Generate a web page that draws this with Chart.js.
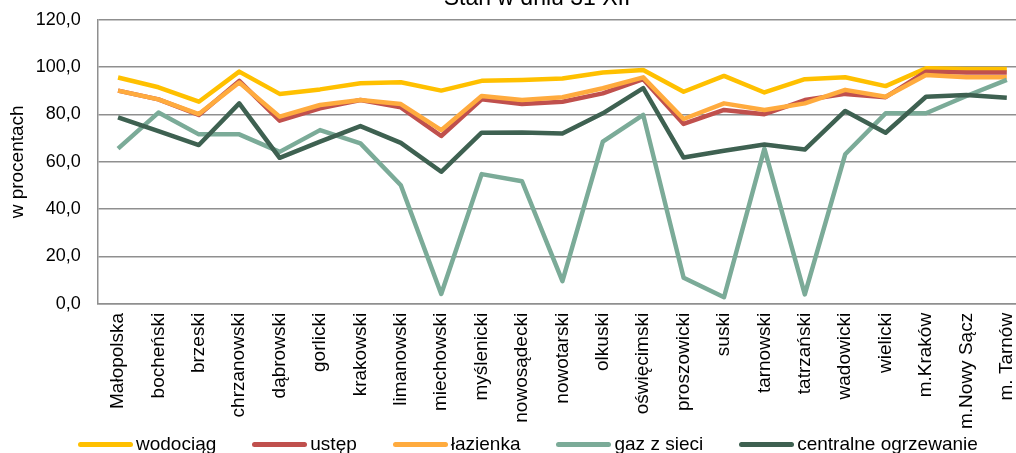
<!DOCTYPE html>
<html>
<head>
<meta charset="utf-8">
<script src="https://cdn.jsdelivr.net/npm/chart.js@4/dist/chart.umd.min.js"></script>
<style>
  html, body { margin: 0; padding: 0; background: #fff; }
  #wrap { position: relative; width: 1016px; height: 453px; overflow: hidden; font-family: 'Liberation Sans', Arial, sans-serif; }
  #box { position: absolute; left: 0; top: 0; width: 1074px; height: 438px; }
  #title { position: absolute; left: 0; top: -14px; width: 1074px; text-align: center; font-size: 23px; line-height: 22px; color: #000; }
  #legend { position: absolute; left: 78px; top: 433px; display: flex; align-items: center; gap: 36px; font-size: 19px; color: #000; white-space: nowrap; }
  #legend .item { display: flex; align-items: center; }
  #legend .line { width: 55px; height: 5px; border-radius: 3px; margin-right: 3px; }
</style>
</head>
<body>
<div id="wrap">
  <div id="box"><canvas id="chart"></canvas></div>
  <div id="title">Stan w dniu 31 XII</div>
  <div id="legend"></div>
</div>
<script>
// Dane: odsetek mieszkań wyposażonych w instalacje (stan w dniu 31 XII)
const categories = ['Małopolska', 'bocheński', 'brzeski', 'chrzanowski', 'dąbrowski', 'gorlicki',
    'krakowski', 'limanowski', 'miechowski', 'myślenicki', 'nowosądecki', 'nowotarski', 'olkuski',
    'oświęcimski', 'proszowicki', 'suski', 'tarnowski', 'tatrzański', 'wadowicki', 'wielicki',
    'm.Kraków', 'm.Nowy Sącz', 'm. Tarnów'];

const wodociag = [95.6, 91.5, 85.4, 98.1, 88.7, 90.6, 93.2, 93.6, 90.1, 94.2, 94.6, 95.2, 97.7,
    98.8, 89.6, 96.3, 89.3, 94.9, 95.7, 92.0, 99.5, 99.2, 99.2];
const ustep = [90.1, 86.4, 79.8, 94.2, 77.4, 82.6, 86.1, 83.0, 70.9, 86.4, 84.4, 85.4, 88.9,
    94.9, 76.0, 81.9, 80.1, 86.1, 88.7, 87.3, 98.1, 97.7, 97.7];
const lazienka = [90.1, 86.4, 80.2, 93.5, 79.1, 84.0, 86.1, 84.4, 73.4, 87.8, 86.1, 87.3, 91.1,
    95.7, 78.1, 84.7, 81.9, 84.7, 90.4, 87.5, 96.7, 95.7, 95.7];
const gaz = [65.6, 80.8, 71.6, 71.6, 64.2, 73.4, 67.8, 50.1, 4.2, 54.8, 51.8, 9.6, 68.5,
    79.8, 11.0, 2.8, 65.6, 4.0, 63.2, 80.5, 80.5, 87.8, 94.6];
const co = [78.8, 73.0, 67.1, 84.7, 61.7, 68.5, 75.1, 68.0, 55.8, 72.3, 72.4, 72.0, 80.5,
    91.1, 61.8, 64.7, 67.3, 65.2, 81.5, 72.3, 87.5, 88.2, 87.1];

const yTicks = [0, 20, 40, 60, 80, 100, 120];

const series = [
    { label: 'wodociąg', data: wodociag, color: '#FFC000' },
    { label: 'ustęp', data: ustep, color: '#C0504D' },
    { label: 'łazienka', data: lazienka, color: '#FFAB3E' },
    { label: 'gaz z sieci', data: gaz, color: '#7BAB98' },
    { label: 'centralne ogrzewanie', data: co, color: '#3E6151' }
];

const FONT = "'Liberation Sans', Arial, sans-serif";
Chart.defaults.font.family = FONT;
Chart.defaults.color = '#000';

const chart = new Chart(document.getElementById('chart').getContext('2d'), {
    type: 'line',
    data: {
        labels: categories,
        datasets: series.map((s, i) => ({
            label: s.label,
            data: s.data,
            borderColor: s.color,
            backgroundColor: s.color,
            borderWidth: 4.5,
            pointRadius: 0,
            tension: 0,
            borderJoinStyle: 'round',
            order: series.length - i   // późniejsza seria rysowana na wierzchu
        }))
    },
    options: {
        responsive: true,
        maintainAspectRatio: false,
        animation: false,
        layout: { padding: { left: 0, right: 47, top: 0, bottom: 0 } },
        plugins: {
            title: { display: false },
            legend: { display: false },
            tooltip: { enabled: false }
        },
        scales: {
            x: {
                offset: true,
                grid: { display: false, drawTicks: false },
                border: { display: true, color: '#8f8f8f', width: 1.5 },
                ticks: {
                    autoSkip: false,
                    maxRotation: 90,
                    minRotation: 90,
                    padding: 9,
                    color: '#000',
                    font: { size: 19 }
                }
            },
            y: {
                min: 0,
                max: 120,
                afterBuildTicks: (axis) => { axis.ticks = yTicks.map(v => ({ value: v })); },
                grid: { color: '#8f8f8f', lineWidth: 1.5, drawTicks: true, tickLength: 8, tickColor: 'rgba(0,0,0,0)' },
                border: { display: true, color: '#8f8f8f', width: 1.5 },
                ticks: {
                    padding: 9,
                    color: '#000',
                    font: { size: 18 },
                    callback: (v) => v.toFixed(1).replace('.', ',')
                },
                title: {
                    display: true,
                    text: 'w procentach',
                    color: '#000',
                    font: { size: 19 },
                    padding: { top: 6, bottom: -2 }
                }
            }
        }
    }
});

// legenda pod wykresem, z kolorów zbiorów danych
document.getElementById('legend').innerHTML = chart.data.datasets.map(ds =>
    `<span class="item"><span class="line" style="background:${ds.borderColor}"></span>${ds.label}</span>`
).join('');
</script>
</body>
</html>
